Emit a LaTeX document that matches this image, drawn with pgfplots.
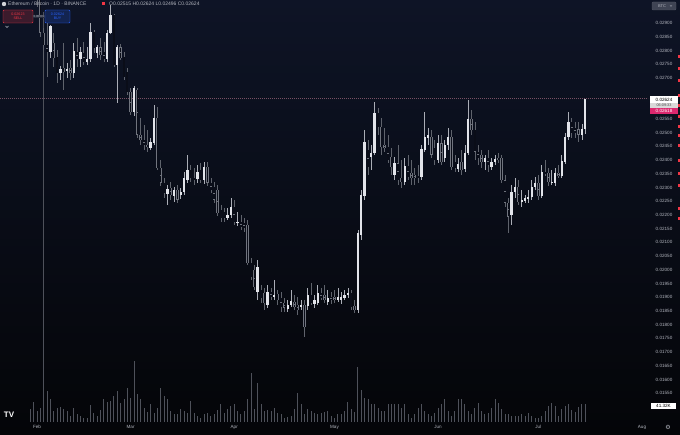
\documentclass[border=0pt]{standalone}
\usepackage{pgfplots}
\usepackage{pgfplotstable}
\usepackage{fontspec}
\setmainfont{Liberation Sans}
\newfontfamily\dv{DejaVu Sans}
\pgfplotsset{compat=1.18}

\definecolor{bgtop}{RGB}{14,20,38}
\definecolor{bgbot}{RGB}{4,5,8}
\definecolor{upbody}{RGB}{226,228,234}
\definecolor{upwick}{RGB}{170,173,182}
\definecolor{dnedge}{RGB}{112,116,126}
\definecolor{dnfill}{RGB}{10,13,24}
\definecolor{dnwick}{RGB}{95,99,108}
\definecolor{volcol}{RGB}{78,81,90}
\definecolor{lbl}{RGB}{178,181,190}
\definecolor{pline}{RGB}{120,80,100}
\definecolor{tvred}{RGB}{242,54,69}
\definecolor{tvblue}{RGB}{41,98,255}
\definecolor{tvpink}{RGB}{220,40,110}

% up candles: day, open, high, low, close
\pgfplotstableread{
d o h l c
4 0.02794 0.02893 0.02772 0.02889
7 0.02718 0.02743 0.02692 0.02732
9 0.02725 0.02754 0.02699 0.02732
11 0.02718 0.02827 0.02699 0.02798
13 0.02769 0.02812 0.02740 0.02794
15 0.02758 0.02812 0.02747 0.02769
16 0.02769 0.02900 0.02758 0.02867
18 0.02791 0.02820 0.02772 0.02812
21 0.02769 0.02874 0.02758 0.02864
22 0.02864 0.02966 0.02860 0.02929
24 0.02747 0.02820 0.02608 0.02812
29 0.02575 0.02670 0.02561 0.02663
34 0.02444 0.02481 0.02437 0.02466
35 0.02462 0.02601 0.02455 0.02554
39 0.02276 0.02309 0.02236 0.02295
41 0.02269 0.02302 0.02247 0.02291
43 0.02273 0.02298 0.02258 0.02284
44 0.02284 0.02357 0.02273 0.02335
45 0.02327 0.02419 0.02317 0.02364
48 0.02331 0.02382 0.02317 0.02357
50 0.02327 0.02393 0.02313 0.02375
57 0.02189 0.02225 0.02182 0.02200
58 0.02200 0.02262 0.02189 0.02229
60 0.02171 0.02211 0.02160 0.02174
66 0.01919 0.02036 0.01890 0.02010
69 0.01872 0.01945 0.01861 0.01919
71 0.01901 0.01963 0.01890 0.01908
75 0.01857 0.01890 0.01846 0.01872
76 0.01872 0.01926 0.01864 0.01886
79 0.01864 0.01890 0.01853 0.01872
81 0.01868 0.01934 0.01853 0.01908
83 0.01875 0.01908 0.01861 0.01890
84 0.01879 0.01945 0.01872 0.01915
87 0.01883 0.01926 0.01872 0.01897
90 0.01890 0.01934 0.01883 0.01901
91 0.01890 0.01919 0.01875 0.01901
92 0.01897 0.01926 0.01890 0.01908
93 0.01908 0.01934 0.01897 0.01915
96 0.01853 0.02145 0.01842 0.02134
97 0.02127 0.02291 0.02109 0.02273
98 0.02269 0.02510 0.02255 0.02466
100 0.02411 0.02455 0.02364 0.02426
101 0.02426 0.02612 0.02419 0.02572
107 0.02346 0.02411 0.02327 0.02389
110 0.02320 0.02408 0.02309 0.02379
115 0.02338 0.02455 0.02327 0.02441
116 0.02437 0.02575 0.02430 0.02484
117 0.02481 0.02517 0.02455 0.02492
120 0.02400 0.02492 0.02389 0.02462
122 0.02408 0.02473 0.02393 0.02455
123 0.02455 0.02517 0.02437 0.02484
126 0.02368 0.02408 0.02357 0.02386
128 0.02368 0.02455 0.02357 0.02426
129 0.02426 0.02619 0.02419 0.02550
134 0.02393 0.02419 0.02364 0.02408
136 0.02375 0.02408 0.02364 0.02393
137 0.02393 0.02419 0.02382 0.02404
142 0.02200 0.02309 0.02163 0.02284
143 0.02284 0.02335 0.02262 0.02302
145 0.02247 0.02291 0.02229 0.02255
146 0.02251 0.02273 0.02244 0.02262
147 0.02258 0.02291 0.02244 0.02265
148 0.02265 0.02327 0.02255 0.02302
149 0.02302 0.02338 0.02291 0.02317
151 0.02269 0.02382 0.02262 0.02357
154 0.02317 0.02364 0.02309 0.02320
155 0.02317 0.02371 0.02306 0.02353
157 0.02342 0.02419 0.02335 0.02397
158 0.02393 0.02499 0.02386 0.02484
159 0.02484 0.02575 0.02473 0.02539
163 0.02492 0.02532 0.02473 0.02513
164 0.02515 0.02624 0.02496 0.02624
}\upc

% down candles
\pgfplotstableread{
d o h l c
-2 0.03100 0.03150 0.03050 0.03080
-1 0.03080 0.03110 0.03020 0.03050
0 0.03050 0.03080 0.02960 0.02990
1 0.02990 0.03000 0.02850 0.02864
2 0.02864 0.02882 0.02765 0.02820
3 0.02820 0.02911 0.02703 0.02794
5 0.02827 0.02864 0.02740 0.02772
6 0.02776 0.02802 0.02681 0.02718
8 0.02736 0.02827 0.02656 0.02721
10 0.02736 0.02765 0.02692 0.02718
12 0.02794 0.02845 0.02740 0.02769
14 0.02791 0.02831 0.02747 0.02758
17 0.02867 0.02874 0.02791 0.02809
19 0.02812 0.02845 0.02765 0.02783
20 0.02794 0.02831 0.02758 0.02769
23 0.02929 0.02933 0.02740 0.02747
25 0.02812 0.02823 0.02765 0.02772
26 0.02776 0.02794 0.02692 0.02703
27 0.02721 0.02736 0.02637 0.02648
28 0.02648 0.02663 0.02564 0.02575
30 0.02656 0.02663 0.02481 0.02492
31 0.02492 0.02554 0.02455 0.02473
32 0.02473 0.02528 0.02437 0.02455
33 0.02455 0.02510 0.02430 0.02448
36 0.02554 0.02594 0.02364 0.02371
37 0.02371 0.02400 0.02306 0.02317
38 0.02317 0.02335 0.02262 0.02280
40 0.02298 0.02320 0.02255 0.02273
42 0.02291 0.02309 0.02244 0.02255
46 0.02364 0.02382 0.02320 0.02335
47 0.02335 0.02371 0.02309 0.02327
49 0.02364 0.02389 0.02317 0.02327
51 0.02375 0.02393 0.02306 0.02317
52 0.02317 0.02335 0.02280 0.02291
53 0.02302 0.02320 0.02244 0.02255
54 0.02291 0.02309 0.02196 0.02207
55 0.02218 0.02236 0.02174 0.02189
56 0.02211 0.02225 0.02174 0.02189
59 0.02229 0.02255 0.02163 0.02174
61 0.02174 0.02200 0.02145 0.02156
62 0.02171 0.02189 0.02138 0.02152
63 0.02163 0.02182 0.02018 0.02025
64 0.02025 0.02043 0.01963 0.01974
65 0.01999 0.02018 0.01926 0.01937
67 0.01926 0.01945 0.01879 0.01897
68 0.01915 0.01934 0.01853 0.01879
70 0.01919 0.01934 0.01890 0.01901
72 0.01912 0.01926 0.01872 0.01890
73 0.01897 0.01919 0.01846 0.01864
74 0.01879 0.01897 0.01846 0.01861
77 0.01883 0.01908 0.01853 0.01864
78 0.01872 0.01901 0.01835 0.01853
80 0.01872 0.01890 0.01755 0.01791
82 0.01908 0.01952 0.01872 0.01879
85 0.01915 0.01934 0.01890 0.01897
86 0.01908 0.01945 0.01879 0.01890
88 0.01901 0.01919 0.01875 0.01890
89 0.01901 0.01926 0.01879 0.01890
94 0.01915 0.01926 0.01853 0.01864
95 0.01868 0.01890 0.01842 0.01853
99 0.02437 0.02473 0.02346 0.02375
102 0.02572 0.02590 0.02492 0.02521
103 0.02521 0.02554 0.02419 0.02448
104 0.02455 0.02517 0.02430 0.02444
105 0.02448 0.02492 0.02389 0.02400
106 0.02411 0.02444 0.02346 0.02375
108 0.02389 0.02455 0.02309 0.02327
109 0.02335 0.02400 0.02298 0.02320
111 0.02379 0.02419 0.02327 0.02338
112 0.02353 0.02400 0.02309 0.02335
113 0.02346 0.02371 0.02309 0.02335
114 0.02342 0.02382 0.02317 0.02335
118 0.02484 0.02510 0.02408 0.02419
119 0.02444 0.02473 0.02382 0.02400
121 0.02462 0.02492 0.02382 0.02393
124 0.02484 0.02510 0.02364 0.02375
125 0.02393 0.02419 0.02357 0.02371
127 0.02393 0.02437 0.02346 0.02364
130 0.02550 0.02583 0.02492 0.02510
131 0.02510 0.02539 0.02400 0.02430
132 0.02430 0.02455 0.02382 0.02408
133 0.02419 0.02437 0.02371 0.02393
135 0.02408 0.02437 0.02357 0.02382
138 0.02408 0.02426 0.02389 0.02400
139 0.02408 0.02419 0.02317 0.02327
140 0.02327 0.02346 0.02229 0.02244
141 0.02244 0.02262 0.02134 0.02193
144 0.02302 0.02327 0.02236 0.02247
150 0.02317 0.02346 0.02255 0.02269
152 0.02357 0.02400 0.02342 0.02349
153 0.02353 0.02371 0.02306 0.02320
156 0.02353 0.02382 0.02335 0.02342
160 0.02539 0.02554 0.02481 0.02499
161 0.02517 0.02539 0.02481 0.02499
162 0.02513 0.02539 0.02466 0.02492
}\dnc

% volume in thousands
\pgfplotstableread{
d v
-2 30
-1 46
0 25
1 32
2 943
3 71
4 53
5 25
6 32
7 35
8 30
9 25
10 14
11 32
12 18
13 14
14 9
15 9
16 39
17 21
18 14
19 28
20 53
21 46
22 48
23 60
24 71
25 44
26 53
27 78
28 55
29 140
30 64
31 53
32 32
33 23
34 41
35 21
36 32
37 78
38 60
39 53
40 25
41 18
42 18
43 30
44 25
45 21
46 48
47 21
48 14
49 9
50 18
51 21
52 14
53 18
54 28
55 41
56 21
57 30
58 37
59 41
60 25
61 18
62 25
63 53
64 113
65 30
66 90
67 41
68 25
69 28
70 25
71 32
72 21
73 18
74 9
75 12
76 14
77 30
78 67
79 41
80 18
81 30
82 25
83 21
84 18
85 21
86 23
87 25
88 14
89 9
90 18
91 18
92 25
93 46
94 30
95 23
96 127
97 74
98 55
99 53
100 41
101 41
102 32
103 25
104 25
105 41
106 41
107 41
108 41
109 32
110 41
111 18
112 9
113 18
114 32
115 41
116 25
117 18
118 14
119 21
120 32
121 41
122 53
123 25
124 14
125 25
126 53
127 53
128 41
129 25
130 18
131 32
132 44
133 25
134 18
135 21
136 32
137 53
138 44
139 30
140 18
141 18
142 14
143 14
144 14
145 18
146 14
147 21
148 14
149 9
150 9
151 14
152 25
153 37
154 44
155 37
156 14
157 30
158 37
159 41
160 28
161 23
162 35
163 41
164 41.32
}\vol

\pgfplotsset{
  frame/.style={at={(0pt,11pt)}, anchor=south west, width=648pt, height=423pt,
    scale only axis, xmin=-11.07, xmax=182.8},
  candle/.style={draw=none, mark=none, forget plot,
    error bars/y dir=both, error bars/y explicit, error bars/error mark=none},
}

\begin{document}
\begin{tikzpicture}
\useasboundingbox (0,0) rectangle (680pt,434pt);
\shade[top color=bgtop, bottom color=bgbot] (0,0) rectangle (680pt,434pt);

% volume pane
\begin{axis}[frame, ymin=-2.3, ymax=970, hide axis]
\addplot[ycomb, draw=volcol, line width=0.8pt] table[x=d, y=v] {\vol};
\end{axis}

% price pane
\begin{axis}[frame, ymin=0.014412, ymax=0.029839,
  axis line style={draw=none}, major tick length=0pt,
  scaled y ticks=false, scaled x ticks=false,
  xtick={0,28,59,89,120,150,181},
  xticklabels={Feb,Mar,Apr,May,Jun,Jul,Aug},
  ytick={0.015,0.0155,0.016,0.0165,0.017,0.0175,0.018,0.0185,0.019,0.0195,0.02,0.0205,0.021,0.0215,0.022,0.0225,0.023,0.0235,0.024,0.0245,0.025,0.0255,0.027,0.0275,0.028,0.0285,0.029},
  yticklabels={0.01500,0.01550,0.01600,0.01650,0.01700,0.01750,0.01800,0.01850,0.01900,0.01950,0.02000,0.02050,0.02100,0.02150,0.02200,0.02250,0.02300,0.02350,0.02400,0.02450,0.02500,0.02550,0.02700,0.02750,0.02800,0.02850,0.02900},
  yticklabel pos=right,
  tick label style={font=\fontsize{4.6}{5}\selectfont, text=lbl},
  xticklabel style={anchor=center, yshift=-4pt},
  yticklabel style={anchor=center, xshift=16pt},
]
% last price line
\addplot[draw=pline, dash pattern=on 0.8pt off 1.2pt, line width=0.5pt, forget plot]
  coordinates {(-11.07,0.02624) (182.8,0.02624)};
% wicks
\addplot[candle, error bars/error bar style={draw=dnwick, line width=0.6pt}]
  table[x=d, y expr={(\thisrow{h}+\thisrow{l})/2}, y error expr={(\thisrow{h}-\thisrow{l})/2}] {\dnc};
\addplot[candle, error bars/error bar style={draw=upwick, line width=0.6pt}]
  table[x=d, y expr={(\thisrow{h}+\thisrow{l})/2}, y error expr={(\thisrow{h}-\thisrow{l})/2}] {\upc};
% bodies
\addplot[candle, error bars/error bar style={draw=dnedge, line width=2.3pt}]
  table[x=d, y expr={(\thisrow{o}+\thisrow{c})/2}, y error expr={max(abs(\thisrow{c}-\thisrow{o})/2,0.000015)}] {\dnc};
\addplot[candle, error bars/error bar style={draw=dnfill, line width=1.5pt, shorten <=0.4pt, shorten >=0.4pt}]
  table[x=d, y expr={(\thisrow{o}+\thisrow{c})/2}, y error expr={max(abs(\thisrow{c}-\thisrow{o})/2,0.000015)}] {\dnc};
\addplot[candle, error bars/error bar style={draw=upbody, line width=2.3pt}]
  table[x=d, y expr={(\thisrow{o}+\thisrow{c})/2}, y error expr={max(abs(\thisrow{c}-\thisrow{o})/2,0.000015)}] {\upc};
\end{axis}

% header
\fill[lbl!60] (4pt,430pt) circle (2.2pt);
\node[anchor=west, inner sep=0pt, font=\fontsize{5}{6}\selectfont, text=lbl] at (8pt,430pt)
  {Ethereum / Bitcoin · 1D · BINANCE};
\fill[tvred] (101.5pt,428.5pt) rectangle (104.5pt,431.5pt);
\node[anchor=west, inner sep=0pt, font=\fontsize{5}{6}\selectfont, text=lbl] at (109pt,430pt)
  {O0.02515 H0.02624 L0.02496 C0.02624};
% sell / buy
\draw[tvred, fill=tvred!20!bgtop, rounded corners=1pt] (3pt,411pt) rectangle (33pt,424pt);
\node[font=\fontsize{3.6}{4}\selectfont, text=tvred, align=center, inner sep=0pt] at (18pt,417.5pt) {0.02623\\SELL};
\node[font=\fontsize{3}{3.5}\selectfont, text=lbl, inner sep=0.5pt, fill=lbl!15!bgtop] at (39pt,417.5pt) {0.00001};
\draw[tvblue, fill=tvblue!20!bgtop, rounded corners=1pt] (45pt,411pt) rectangle (70pt,424pt);
\node[font=\fontsize{3.6}{4}\selectfont, text=tvblue, align=center, inner sep=0pt] at (57.5pt,417.5pt) {0.02624\\BUY};
\draw[lbl, line width=0.5pt] (5.5pt,408pt) -- (7pt,406.5pt) -- (8.5pt,408pt);

% right scale
\draw[lbl!40!bgtop, fill=bgtop!70!lbl, rounded corners=1pt] (652pt,424pt) rectangle (676pt,432pt);
\node[font=\fontsize{4}{5}\selectfont, text=lbl, inner sep=0pt] at (662pt,428pt) {BTC};
\draw[lbl, line width=0.3pt] (670pt,428.6pt) -- (671pt,427.6pt) -- (672pt,428.6pt);
\fill[white] (650pt,331pt) rectangle (678pt,338pt);
\node[font=\fontsize{4.6}{5}\selectfont, text=black, inner sep=0pt] at (664pt,334.5pt) {0.02624};
\fill[white!85!black] (650pt,326pt) rectangle (678pt,331pt);
\node[font=\fontsize{3.8}{4}\selectfont, text=black!70, inner sep=0pt] at (664pt,328.5pt) {06:09:33};
\fill[tvpink] (650pt,320pt) rectangle (678pt,326pt);
\node[font=\fontsize{4.6}{5}\selectfont, text=white, inner sep=0pt] at (664pt,323pt) {0.02618};
\fill[white] (651pt,25pt) rectangle (676pt,31pt);
\node[font=\fontsize{4.6}{5}\selectfont, text=black, inner sep=0pt] at (663.5pt,28pt) {41.32K};
\foreach \yy in {376,364,352,337,327,316,306,297,287,272,259,247,224,214}
  \fill[tvred] (678pt,\yy pt) rectangle (680pt,\yy pt+3pt);

% logo and settings
\node[font=\bfseries\fontsize{8}{9}\selectfont, text=white, inner sep=0pt] at (9pt,19pt) {TV};
\node[font=\dv\fontsize{6}{7}\selectfont, text=lbl, inner sep=0pt] at (668pt,7pt) {⚙};
\end{tikzpicture}
\end{document}
